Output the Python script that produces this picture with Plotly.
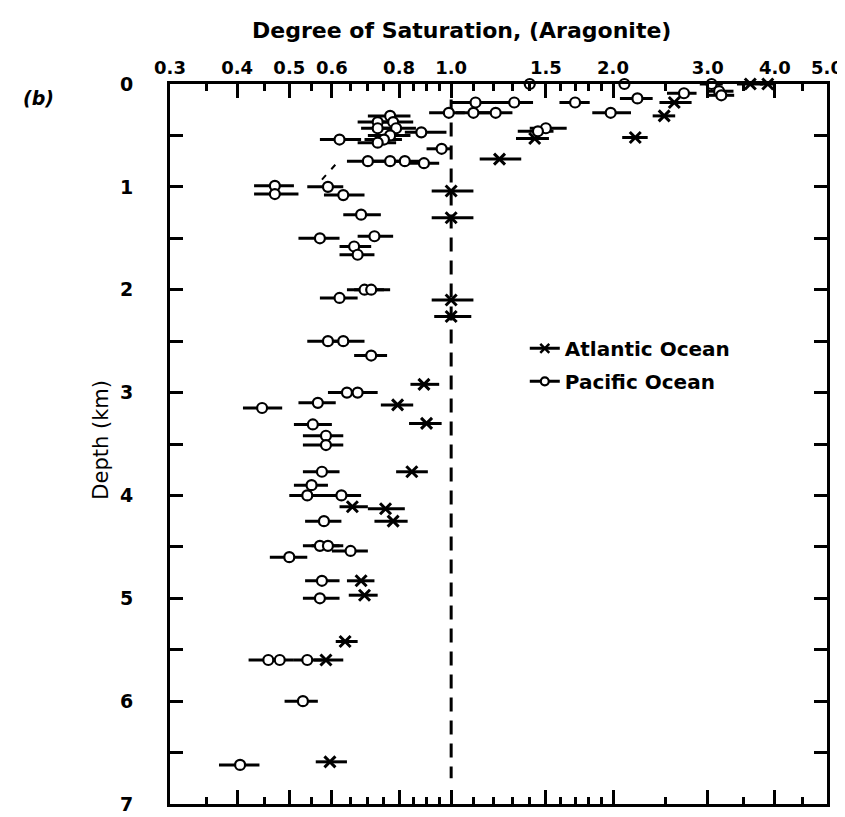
import plotly.graph_objects as go

# ---------------- data ----------------
# Pacific Ocean: degree of saturation (aragonite), depth (km), error-bar low / high
pacific_sat = [1.40, 2.10, 3.05, 3.15, 3.18, 2.71, 2.22, 1.70, 1.98, 1.11, 1.31, 0.99, 1.10, 1.21,
               1.50, 1.45,
               0.77, 0.73, 0.78, 0.73, 0.79, 0.88, 0.77, 0.75, 0.73, 0.62, 0.96,
               0.70, 0.77, 0.82, 0.89,
               0.47, 0.47, 0.59, 0.63, 0.68, 0.57, 0.72, 0.66, 0.67,
               0.69, 0.71, 0.62, 0.59, 0.63, 0.71, 0.64, 0.67, 0.565, 0.445, 0.553,
               0.585, 0.585, 0.575, 0.55, 0.54, 0.625, 0.58, 0.57, 0.59, 0.65, 0.50,
               0.575, 0.57, 0.457, 0.48, 0.54, 0.53, 0.405]
pacific_depth = [0.0, 0.0, 0.0, 0.07, 0.11, 0.09, 0.14, 0.18, 0.28, 0.18, 0.18, 0.28, 0.28, 0.28,
                 0.43, 0.46,
                 0.31, 0.37, 0.37, 0.43, 0.43, 0.47, 0.50, 0.54, 0.57, 0.54, 0.63,
                 0.75, 0.75, 0.75, 0.77,
                 0.99, 1.07, 1.00, 1.08, 1.27, 1.50, 1.48, 1.58, 1.66,
                 2.00, 2.00, 2.08, 2.50, 2.50, 2.64, 3.00, 3.00, 3.10, 3.15, 3.31,
                 3.42, 3.51, 3.77, 3.90, 4.00, 4.00, 4.25, 4.49, 4.49, 4.54, 4.60,
                 4.83, 5.00, 5.60, 5.60, 5.60, 6.00, 6.62]
pacific_lo = [1.40, 2.10, 2.90, 3.00, 2.99, 2.52, 2.06, 1.59, 1.83, 1.00, 1.20, 0.91, 1.02, 1.12,
              1.40, 1.33,
              0.70, 0.67, 0.72, 0.68, 0.73, 0.82, 0.70, 0.69, 0.67, 0.57, 0.90,
              0.64, 0.71, 0.76, 0.83,
              0.43, 0.43, 0.54, 0.58, 0.63, 0.52, 0.67, 0.62, 0.62,
              0.64, 0.66, 0.57, 0.54, 0.58, 0.66, 0.59, 0.62, 0.52, 0.41, 0.51,
              0.53, 0.53, 0.53, 0.51, 0.50, 0.58, 0.535, 0.53, 0.55, 0.60, 0.46,
              0.535, 0.53, 0.42, 0.45, 0.51, 0.49, 0.37]
pacific_hi = [1.40, 2.10, 3.20, 3.35, 3.36, 2.86, 2.37, 1.81, 2.16, 1.21, 1.42, 1.06, 1.18, 1.30,
              1.64, 1.55,
              0.84, 0.80, 0.85, 0.79, 0.86, 0.98, 0.84, 0.81, 0.79, 0.68, 1.00,
              0.76, 0.82, 0.88, 0.95,
              0.51, 0.52, 0.63, 0.69, 0.74, 0.62, 0.78, 0.71, 0.72,
              0.75, 0.77, 0.67, 0.63, 0.69, 0.76, 0.69, 0.73, 0.61, 0.485, 0.60,
              0.63, 0.63, 0.62, 0.59, 0.59, 0.68, 0.625, 0.62, 0.63, 0.70, 0.54,
              0.62, 0.62, 0.48, 0.51, 0.575, 0.565, 0.44]

# Atlantic Ocean
atlantic_sat = [3.60, 3.88, 2.60, 2.49, 2.20, 1.43, 1.23, 1.00, 1.00, 1.00, 1.00,
                0.89, 0.795, 0.90, 0.845, 0.655, 0.755, 0.78, 0.68, 0.69, 0.635, 0.585, 0.595]
atlantic_depth = [0.0, 0.0, 0.18, 0.31, 0.52, 0.53, 0.73, 1.04, 1.30, 2.10, 2.26,
                  2.92, 3.12, 3.30, 3.77, 4.11, 4.13, 4.25, 4.83, 4.97, 5.42, 5.60, 6.59]
atlantic_lo = [3.40, 3.75, 2.44, 2.37, 2.08, 1.32, 1.13, 0.92, 0.92, 0.92, 0.93,
               0.84, 0.74, 0.835, 0.79, 0.62, 0.70, 0.72, 0.64, 0.645, 0.61, 0.555, 0.56]
atlantic_hi = [3.80, 3.98, 2.80, 2.61, 2.32, 1.52, 1.35, 1.10, 1.10, 1.10, 1.09,
               0.95, 0.85, 0.96, 0.905, 0.70, 0.82, 0.83, 0.72, 0.73, 0.67, 0.63, 0.64]

# saturation = 1 reference line and short dashed trend segment
ref_sat = [1.0, 1.0]
ref_depth = [0.15, 6.75]
trend_sat = [0.575, 0.615]
trend_depth = [0.93, 0.76]

# axes
x_tick_vals = [0.3, 0.4, 0.5, 0.6, 0.8, 1.0, 1.5, 2.0, 3.0, 4.0, 5.0]
x_tick_text = ["0.3", "0.4", "0.5", "0.6", "0.8", "1.0", "1.5", "2.0", "3.0", "4.0", "5.0"]
x_minor_vals = [0.35, 0.45, 0.55, 0.65, 0.7, 0.75, 0.85, 0.9, 0.95,
                1.1, 1.2, 1.3, 1.4, 1.6, 1.7, 1.8, 1.9, 2.5, 3.5, 4.5]
y_tick_vals = [0, 1, 2, 3, 4, 5, 6, 7]
y_minor_vals = [0.5, 1.5, 2.5, 3.5, 4.5, 5.5, 6.5]

# ---------------- figure ----------------
FONT = "DejaVu Sans"
fig = go.Figure()

fig.add_trace(go.Scatter(x=ref_sat, y=ref_depth, mode="lines", showlegend=False,
                         line=dict(color="black", width=3, dash="14px,9px"), hoverinfo="skip"))
fig.add_trace(go.Scatter(x=trend_sat, y=trend_depth, mode="lines", showlegend=False,
                         line=dict(color="black", width=2, dash="6px,8px"), hoverinfo="skip"))

def bars(vals, lo, hi):
    plus = [h - v for v, h in zip(vals, hi)]
    minus = [v - l for v, l in zip(vals, lo)]
    return dict(type="data", symmetric=False, array=plus, arrayminus=minus,
                color="black", thickness=3, width=0)

fig.add_trace(go.Scatter(x=atlantic_sat, y=atlantic_depth, mode="markers", showlegend=False,
                         error_x=bars(atlantic_sat, atlantic_lo, atlantic_hi), cliponaxis=False,
                         marker=dict(symbol="x-thin", size=11, color="black",
                                     line=dict(color="black", width=3))))
fig.add_trace(go.Scatter(x=pacific_sat, y=pacific_depth, mode="markers", showlegend=False,
                         error_x=bars(pacific_sat, pacific_lo, pacific_hi), cliponaxis=False,
                         marker=dict(symbol="circle", size=10, color="white",
                                     line=dict(color="black", width=2.2))))

# legend entries
fig.add_trace(go.Scatter(x=[None], y=[None], mode="lines+markers", name="Atlantic Ocean",
                         legendgroup="a",
                         line=dict(color="black", width=3),
                         marker=dict(symbol="x-thin", size=9, color="black",
                                     line=dict(color="black", width=2.5))))
fig.add_trace(go.Scatter(x=[None], y=[None], mode="lines+markers", name="Pacific Ocean",
                         legendgroup="p",
                         line=dict(color="black", width=3),
                         marker=dict(symbol="circle", size=8, color="white",
                                     line=dict(color="black", width=2.2))))

fig.update_layout(
    width=845, height=817,
    margin=dict(l=162, r=25, t=76, b=10),
    paper_bgcolor="white", plot_bgcolor="white",
    font=dict(family=FONT, size=18, color="black", weight="bold"),
    showlegend=True,
    legend=dict(x=0.54, y=0.66, xanchor="left", yanchor="top",
                bgcolor="rgba(0,0,0,0)", tracegroupgap=4,
                font=dict(family=FONT, size=20, color="black", weight="bold")),
    xaxis=dict(type="log", range=[-0.5229, 0.69897], side="top",
               tickmode="array", tickvals=x_tick_vals, ticktext=x_tick_text,
               ticks="inside", ticklen=14, tickwidth=3, tickcolor="black",
               minor=dict(tickmode="array", tickvals=x_minor_vals, ticks="inside",
                          ticklen=7, tickwidth=3, tickcolor="black"),
               showline=True, linewidth=3, linecolor="black", mirror="ticks",
               showgrid=False, zeroline=False,
               tickfont=dict(family=FONT, size=18, color="black", weight="bold")),
    yaxis=dict(range=[7, 0], tickmode="array", tickvals=y_tick_vals,
               ticks="inside", ticklen=13, tickwidth=3, tickcolor="black",
               minor=dict(tickmode="array", tickvals=y_minor_vals, ticks="inside",
                          ticklen=13, tickwidth=3, tickcolor="black"),
               showline=True, linewidth=3, linecolor="black", mirror="ticks",
               showgrid=False, zeroline=False, ticklabelstandoff=30,
               tickfont=dict(family=FONT, size=19, color="black", weight="bold")),
    annotations=[
        dict(text="Degree of Saturation, (Aragonite)", x=0.443, y=1.074,
             xref="paper", yref="paper", showarrow=False, xanchor="center", yanchor="middle",
             font=dict(family=FONT, size=22, color="black", weight="bold")),
        dict(text="Depth (km)", x=-0.105, y=0.506, xref="paper", yref="paper",
             textangle=-90, showarrow=False, xanchor="center", yanchor="middle",
             font=dict(family=FONT, size=21, color="black", weight="normal")),
        dict(text="<i>(b)</i>", x=-0.2, y=0.98, xref="paper", yref="paper",
             showarrow=False, xanchor="center", yanchor="middle",
             font=dict(family=FONT, size=19, color="black", weight="bold")),
    ],
)

fig.write_html("out.html")
